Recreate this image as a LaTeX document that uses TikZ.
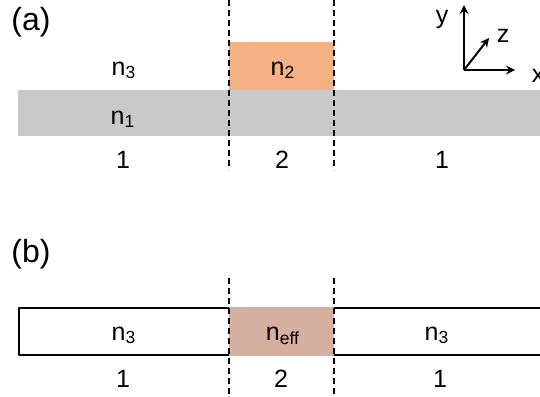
\documentclass[tikz,border=0pt]{standalone}
\usepackage{fontspec}
\setmainfont{Liberation Sans}
\definecolor{ridge}{HTML}{F4B183}
\definecolor{slab}{HTML}{C9C9C9}
\definecolor{effcol}{HTML}{D5AFA0}
\tikzset{
  cutline/.style={line width=1pt, dash pattern=on 3pt off 2pt},
  lbl/.style={anchor=base, inner sep=0pt},
  tag/.style={font=\fontsize{16}{19}\selectfont}
}
\begin{document}
\begin{tikzpicture}[x=0.5pt, y=-0.5pt, font=\fontsize{12.5}{15}\selectfont, line join=round, >=stealth]
	\useasboundingbox (0,0) rectangle (540,396);
	% (a) waveguide cross section
	\fill[slab] (18,90) rectangle (545,136);
	\fill[ridge] (229,42) rectangle (334,90);
	\coordinate (a1t) at (229,0);
	\coordinate (a1b) at (229,170);
	\coordinate (a2t) at (334,0);
	\coordinate (a2b) at (334,170);
	\draw[cutline] (a1t)--(a1b);
	\draw[cutline] (a2t)--(a2b);
	\node[tag] (tag a) at (31,22) {(a)};
	\node[lbl] (n3a) at (124,75) {n\textsubscript{3}};
	\node[lbl] (n2a) at (283,75) {n\textsubscript{2}};
	\node[lbl] (n1a) at (123,124) {n\textsubscript{1}};
	\node[lbl] (r1a) at (123,168) {1};
	\node[lbl] (r2a) at (282,168) {2};
	\node[lbl] (r3a) at (442,168) {1};
	% axes
	\coordinate (o) at (464,70);
	\coordinate (ey) at (464,5);
	\coordinate (ex) at (515,70);
	\coordinate (ez) at (489,38);
	\draw[line width=1pt,->] (o)--(ey);
	\draw[line width=1pt,->] (o)--(ex);
	\draw[line width=1pt,->] (o)--(ez);
	\node[lbl] (ly) at (442,23) {y};
	\node[lbl] (lz) at (503,42) {z};
	\node[lbl] (lx) at (538,82) {x};
	% (b) effective index picture
	\draw[line width=0.75pt] (19,308) rectangle (545,355);
	\fill[effcol] (229,307) rectangle (334,356);
	\coordinate (b1t) at (229,278);
	\coordinate (b1b) at (229,396);
	\coordinate (b2t) at (334,278);
	\coordinate (b2b) at (334,396);
	\draw[cutline] (b1t)--(b1b);
	\draw[cutline] (b2t)--(b2b);
	\node[tag] (tag b) at (31,254) {(b)};
	\node[lbl] (n3l) at (124,340) {n\textsubscript{3}};
	\node[lbl] (neff) at (283,340) {n\textsubscript{eff}};
	\node[lbl] (n3r) at (437,340) {n\textsubscript{3}};
	\node[lbl] (r1b) at (123,387) {1};
	\node[lbl] (r2b) at (281,387) {2};
	\node[lbl] (r3b) at (440,387) {1};
\end{tikzpicture}
\end{document}
